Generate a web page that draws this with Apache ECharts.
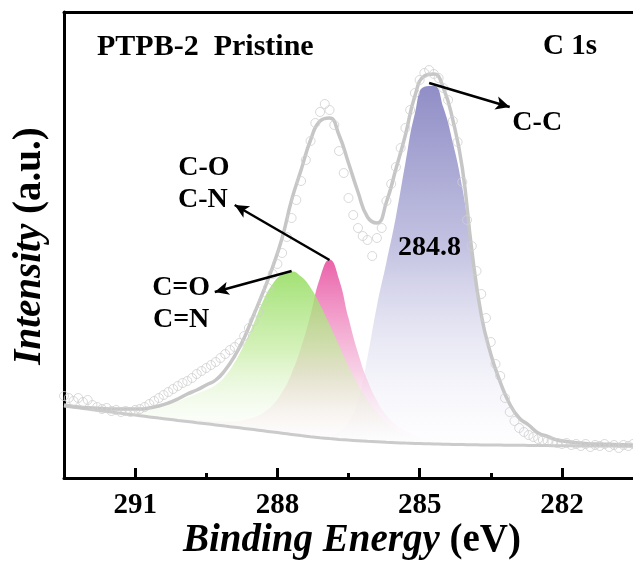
<!DOCTYPE html>
<html>
<head>
<meta charset="utf-8">
<script src="https://cdn.jsdelivr.net/npm/echarts@6/dist/echarts.min.js"></script>
<style>
  html, body { margin: 0; padding: 0; background: #fff; }
  #chart { width: 633px; height: 565px; }
</style>
</head>
<body>
<div id="chart"></div>
<script>
// XPS C 1s region of PTPB-2 (pristine): raw counts, Shirley-type background,
// fitted envelope and three component peaks. Intensities are arbitrary units.

// Scan window (binding energy, eV), high BE first
const scanStart = 292.5;
const dataStep = 0.1;   // raw scan step
const fitStep = 0.2;    // fitted curves step

// Raw counts, 292.5 -> 280.5 eV
const measured = [
  82, 80, 77, 80, 76, 78, 73, 71, 69, 70,
  67, 68, 66, 67, 66, 68, 69, 71, 74, 77,
  80, 83, 86, 89, 92, 95, 97, 100, 104, 107,
  110, 113, 116, 120, 124, 128, 131, 135, 142, 150,
  157, 166, 177, 190, 204, 214, 225, 241, 260, 278,
  297, 318, 337, 355, 366, 374, 368, 353, 327, 305,
  280, 263, 250, 242, 238, 222, 240, 250, 277, 294,
  311, 330, 350, 368, 385, 398, 405, 408, 404, 400,
  390, 378, 357, 336, 296, 258, 232, 207, 184, 160,
  136, 114, 102, 80, 66, 57, 50, 46, 43, 41,
  39, 38, 37, 36, 35, 34, 35, 33, 34, 32,
  34, 31, 33, 32, 34, 31, 33, 30, 33, 32,
  34
];

// Background, 292.5 -> 280.5 eV every 0.2 eV
const background = [
  72, 70.8, 69.5, 68.3, 67.1, 65.9, 64.7, 63.5, 62.3, 61.1,
  59.9, 58.8, 57.6, 56.5, 55.3, 54.2, 53.1, 51.9, 50.8, 49.6,
  48.4, 47.2, 46.0, 44.8, 43.6, 42.4, 41.3, 40.3, 39.4, 38.6,
  37.9, 37.3, 36.7, 36.2, 35.7, 35.3, 34.9, 34.6, 34.3, 34.0,
  33.8, 33.6, 33.4, 33.2, 33.1, 33.0, 32.9, 32.8, 32.7, 32.6,
  32.5, 32.4, 32.3, 32.2, 32.1, 32.0, 32.0, 31.9, 31.9, 31.8,
  31.8
];

// Fitted envelope
const envelope = [
  73, 71.5, 70.5, 70, 69.5, 69, 69, 69, 69, 70,
  72, 75, 79, 84, 88, 93, 98, 108, 122, 140,
  163, 186, 211, 240, 278, 308, 338, 357, 360, 343,
  315, 286, 261, 255, 276, 309, 343, 382, 402, 404,
  390, 358, 310, 228, 163, 124, 96, 74, 60, 53,
  45, 41.5, 38, 36.5, 35.2, 34.5, 34, 33.8, 33.5, 33.3,
  33
];

// Components above background
// C-C, 284.8 eV
const peakCC = [
  0, 0, 0, 0, 0, 0, 0, 0, 0, 0,
  0, 0, 0, 0, 0, 0, 0, 0, 0, 0,
  0, 0, 0, 0, 0, 0, 0.5, 1.5, 3.5, 8,
  18, 40, 84, 136, 180, 226, 280, 330, 357, 358,
  337, 302, 257, 194, 128, 90, 62, 40, 27, 19,
  13, 9, 6, 4, 3, 2, 1.5, 1, 0.8, 0.6,
  0.5
];
// C-O / C-N, 286.9 eV
const peakCO = [
  0.6, 0.6, 0.7, 0.7, 0.8, 0.8, 0.9, 1.0, 1.1, 1.2,
  1.3, 1.5, 1.7, 2.0, 2.4, 2.9, 3.6, 4.6, 6, 8.5,
  12, 18, 27, 41, 61, 88, 122, 160, 179, 160,
  122, 88, 61, 41, 27, 18, 12, 8.5, 6, 4.6,
  3.6, 2.9, 2.4, 2.0, 1.7, 1.5, 1.3, 1.2, 1.1, 1.0,
  0.9, 0.8, 0.8, 0.7, 0.7, 0.6, 0.6, 0.5, 0.5, 0.5,
  0.5
];
// C=O / C=N, 287.7 eV
const peakCdO = [
  1, 1, 1.2, 1.5, 2, 2.5, 3, 4, 5, 7,
  10, 14, 19, 24, 29, 34, 40, 50, 65, 84,
  106, 130, 148, 159, 163, 159, 149, 133, 114, 94,
  74, 56, 41, 29, 20, 13, 9, 6, 4, 3,
  2, 1.5, 1, 0.7, 0.5, 0.4, 0.3, 0.3, 0.2, 0.2,
  0.2, 0.1, 0.1, 0.1, 0.1, 0.1, 0, 0, 0, 0,
  0
];

const majorTicks = [291, 288, 285, 282];
const minorTicks = [289.5, 286.5, 283.5];

// Annotation anchors in data coordinates (eV, a.u.)
const arrows = [
  { from: [284.8, 395], to: [283.1, 371] },
  { from: [286.9, 218], to: [288.9, 273] },
  { from: [287.7, 207], to: [289.32, 186] }
];
const labels = [
  { text: 'C-C', at: [282.52, 355] },
  { text: 'C-O', at: [289.55, 310] },
  { text: 'C-N', at: [289.57, 278] },
  { text: 'C=O', at: [290.03, 190] },
  { text: 'C=N', at: [290.03, 158] },
  { text: '284.8', at: [284.79, 230] }
];

const FONT = '"Liberation Serif", "Times New Roman", serif';

function energyGrid(n, step) {
  return Array.from({ length: n }, (_, i) => +(scanStart - i * step).toFixed(2));
}
const dataEnergy = energyGrid(measured.length, dataStep);
const fitEnergy = energyGrid(background.length, fitStep);
const pairs = (xs, ys) => xs.map((x, i) => [x, ys[i]]);
// Rows as [intensity, energy] so the stacked dimension is the intensity
const rowsYX = (xs, ys) => xs.map((x, i) => [ys[i], x]);

function fade(stops) {
  return {
    type: 'linear', x: 0, y: 0, x2: 0, y2: 1,
    colorStops: stops.map(s => ({ offset: s[0], color: s[1] }))
  };
}

function baseSeries(stack) {
  return {
    type: 'line', stack: stack, data: rowsYX(fitEnergy, background),
    encode: { x: 1, y: 0 },
    smooth: true, symbol: 'none', silent: true,
    lineStyle: { width: 0, opacity: 0 }, z: 1
  };
}
function peakSeries(stack, values, fill, opacity) {
  return {
    type: 'line', stack: stack, data: rowsYX(fitEnergy, values),
    encode: { x: 1, y: 0 },
    smooth: true, symbol: 'none', silent: true,
    lineStyle: { width: 0, opacity: 0 },
    areaStyle: { color: fill, opacity: opacity }, z: 1
  };
}

const chart = echarts.init(document.getElementById('chart'), null, { renderer: 'canvas' });

const axisRange = { min: 280.5, max: 292.5, inverse: true };

chart.setOption({
  animation: false,
  backgroundColor: '#fff',
  grid: { left: 64, top: 12, width: 572, height: 466, containLabel: false },
  xAxis: [
    Object.assign({
      type: 'value', position: 'bottom',
      axisLine: { show: true, onZero: false, lineStyle: { color: '#000', width: 3 } },
      axisTick: { show: true, inside: true, length: 10, customValues: majorTicks,
                  lineStyle: { color: '#000', width: 3 } },
      axisLabel: { show: true, customValues: majorTicks, margin: 13,
                   fontFamily: FONT, fontWeight: 'bold', fontSize: 29, color: '#000' },
      splitLine: { show: false }
    }, axisRange),
    Object.assign({
      type: 'value', position: 'bottom',
      axisLine: { show: false },
      axisTick: { show: true, inside: true, length: 5, customValues: minorTicks,
                  lineStyle: { color: '#000', width: 3 } },
      axisLabel: { show: false },
      splitLine: { show: false }
    }, axisRange),
    Object.assign({
      type: 'value', position: 'top',
      axisLine: { show: true, onZero: false, lineStyle: { color: '#000', width: 3 } },
      axisTick: { show: false }, axisLabel: { show: false }, splitLine: { show: false }
    }, axisRange)
  ],
  yAxis: [{
    type: 'value', min: 0, max: 466, position: 'left',
    axisLine: { show: true, onZero: false, lineStyle: { color: '#000', width: 3 } },
    axisTick: { show: false }, axisLabel: { show: false }, splitLine: { show: false }
  }],
  series: [
    baseSeries('cc'),
    peakSeries('cc', peakCC, fade([[0, 'rgb(144,142,198)'], [0.45, 'rgb(196,195,226)'], [1, 'rgba(252,252,255,0.3)']]), 1),
    baseSeries('co'),
    peakSeries('co', peakCO, fade([[0, 'rgb(234,98,170)'], [0.6, 'rgba(246,196,224,0.8)'], [1, 'rgba(255,240,248,0)']]), 1),
    baseSeries('cdo'),
    peakSeries('cdo', peakCdO, fade([[0, 'rgba(146,220,92,0.95)'], [0.45, 'rgba(196,236,160,0.8)'], [1, 'rgba(245,252,240,0)']]), 0.9),
    {
      name: 'Background', type: 'line', data: pairs(fitEnergy, background),
      smooth: true, symbol: 'none', silent: true, z: 3,
      lineStyle: { color: '#cbcbcb', width: 3 }
    },
    {
      name: 'Envelope', type: 'line', data: pairs(fitEnergy, envelope),
      smooth: true, symbol: 'none', silent: true, z: 3,
      lineStyle: { color: '#c6c6c6', width: 3.5 },
      markLine: {
        silent: true, animation: false,
        symbol: ['none', 'arrow'], symbolSize: [10, 14],
        label: { show: false },
        lineStyle: { color: '#000', width: 2.5, type: 'solid' },
        data: arrows.map(a => [{ coord: a.from }, { coord: a.to }])
      }
    },
    {
      name: 'Raw', type: 'scatter', data: pairs(dataEnergy, measured),
      symbol: 'circle', symbolSize: 9, silent: true, z: 4,
      itemStyle: { color: 'rgba(0,0,0,0)', borderColor: '#cfcfcf', borderWidth: 1 }
    }
  ]
});

// Text: titles, axis names and peak assignments
const textBase = { fontFamily: FONT, fontWeight: 'bold', fill: '#000' };
function axisName(text, unit, size) {
  return {
    text: '{i|' + text + '} {n|' + unit + '}', align: 'center', verticalAlign: 'middle',
    fontFamily: FONT, fontWeight: 'bold', fontSize: size, fill: '#000',
    rich: {
      i: { fontFamily: FONT, fontWeight: 'bold', fontStyle: 'italic', fontSize: size, fill: '#000' },
      n: { fontFamily: FONT, fontWeight: 'bold', fontSize: size, fill: '#000' }
    }
  };
}
const graphics = [
  { type: 'text', x: 97, y: 47,
    style: Object.assign({ text: 'PTPB-2  Pristine', fontSize: 30, align: 'left', verticalAlign: 'middle' }, textBase) },
  { type: 'text', x: 543, y: 47,
    style: Object.assign({ text: 'C 1s', fontSize: 29, align: 'left', verticalAlign: 'middle' }, textBase) },
  { type: 'text', x: 352, y: 541, style: axisName('Binding Energy', '(eV)', 39) },
  { type: 'text', x: 30, y: 246, rotation: Math.PI / 2, style: axisName('Intensity', '(a.u.)', 39) }
];
labels.forEach(l => {
  const p = chart.convertToPixel({ gridIndex: 0 }, l.at);
  graphics.push({
    type: 'text', x: p[0], y: p[1], z: 10,
    style: Object.assign({ text: l.text, fontSize: 28, align: 'center', verticalAlign: 'middle' }, textBase)
  });
});
chart.setOption({ graphic: graphics });
</script>
</body>
</html>
